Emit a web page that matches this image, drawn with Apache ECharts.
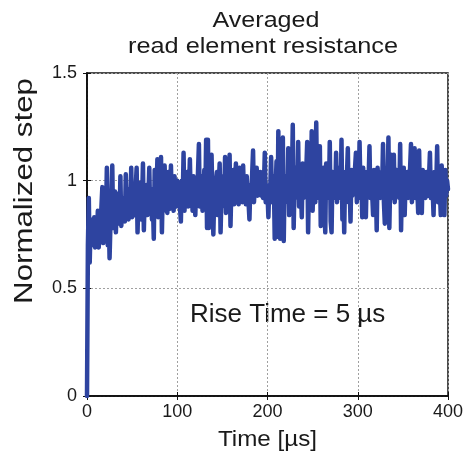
<!DOCTYPE html>
<html><head><meta charset="utf-8">
<script src="https://cdn.jsdelivr.net/npm/echarts@6/dist/echarts.min.js"></script>
<style>html,body{margin:0;padding:0;background:#fff}#c{width:469px;height:458px}</style>
</head><body><div id="c"></div>
<script>
const timeStep = 1; // µs between samples
const stepValues = [
  0,
  0.70, 0.92, 0.62, 0.80, 0.74, 0.82, 0.70, 0.83, 0.69, 0.78, 0.72, 0.86, 0.69, 0.80, 0.75, 0.88, 0.97, 0.71, 0.84, 0.76,
  0.82, 1.06, 0.70, 0.88, 0.64, 0.80, 0.92, 1.07, 0.78, 0.86, 0.95, 0.76, 0.90, 0.82, 0.94, 0.80, 1.02, 0.79, 0.88, 0.84,
  0.92, 0.81, 1.03, 0.86, 0.90, 0.82, 0.96, 0.85, 1.06, 0.83, 0.94, 0.88, 0.84, 0.97, 1.06, 0.76, 0.92, 0.85, 0.99, 0.82,
  0.90, 1.08, 0.77, 0.95, 0.86, 0.98, 0.84, 0.92, 1.06, 0.85, 0.96, 0.82, 0.90, 0.73, 1.05, 0.88, 0.94, 1.10, 0.83, 0.96,
  0.88, 1.11, 0.76, 0.98, 0.86, 1.07, 0.90, 0.95, 0.85, 1.04, 0.92, 0.87, 1.07, 0.90, 0.98, 0.86, 1.02, 0.93, 0.88, 1.00,
  0.92, 0.97, 0.88, 0.81, 1.00, 0.90, 1.13, 0.86, 0.98, 0.92, 1.04, 0.88, 0.95, 1.10, 0.90, 0.97, 0.86, 1.02, 0.93, 0.84,
  0.98, 0.90, 1.04, 1.17, 0.88, 0.96, 1.02, 0.86, 0.95, 1.05, 0.90, 1.19, 0.78, 1.19, 0.78, 0.96, 0.88, 1.12, 0.92, 0.75,
  0.94, 0.86, 1.00, 1.04, 0.84, 0.98, 1.08, 0.76, 0.94, 0.88, 1.02, 0.92, 1.11, 0.85, 0.97, 0.90, 0.94, 1.12, 0.79, 0.98,
  0.90, 1.05, 0.89, 0.98, 1.08, 0.92, 0.96, 0.89, 1.06, 0.93, 1.00, 0.90, 1.07, 0.92, 0.97, 0.89, 1.02, 0.94, 0.90, 0.82,
  0.98, 0.92, 1.03, 1.14, 0.90, 0.98, 0.94, 1.06, 0.93, 1.00, 0.95, 1.04, 0.93, 0.99, 0.92, 0.97, 1.13, 0.90, 0.96, 0.94,
  0.83, 0.98, 0.95, 1.11, 0.90, 0.97, 1.02, 0.73, 0.96, 1.09, 0.74, 1.23, 0.92, 0.73, 1.00, 0.94, 1.20, 0.72, 1.02, 0.95,
  0.98, 0.90, 1.15, 0.84, 1.04, 0.93, 0.99, 1.26, 0.78, 1.00, 0.92, 1.06, 0.94, 1.18, 0.88, 1.02, 0.96, 0.83, 1.08, 0.92,
  1.00, 0.94, 1.05, 1.18, 0.76, 1.02, 0.92, 0.98, 1.23, 0.86, 1.04, 0.95, 0.90, 1.27, 0.92, 1.03, 0.96, 1.16, 0.79, 1.00,
  0.94, 1.06, 0.90, 0.76, 1.08, 0.95, 1.02, 0.92, 1.18, 0.81, 0.76, 1.04, 0.96, 1.00, 0.92, 1.13, 0.90, 1.02, 0.95, 1.06,
  0.92, 1.19, 0.82, 1.00, 0.76, 1.04, 0.94, 1.02, 1.15, 0.90, 0.98, 0.81, 1.05, 0.93, 1.00, 0.95, 1.06, 1.13, 0.90, 0.98,
  0.92, 1.18, 0.96, 1.02, 0.83, 1.06, 0.90, 0.98, 0.83, 1.04, 0.95, 1.00, 1.16, 0.92, 1.03, 0.94, 0.84, 1.05, 0.96, 1.00,
  0.77, 1.06, 0.94, 1.00, 0.92, 1.04, 0.96, 1.17, 0.90, 0.80, 1.02, 0.95, 0.98, 1.20, 0.78, 1.00, 1.12, 0.92, 1.04, 1.12,
  0.90, 0.98, 1.05, 0.93, 1.00, 0.92, 1.17, 0.77, 1.02, 0.96, 1.06, 0.84, 1.00, 0.94, 1.04, 0.92, 0.98, 1.06, 1.17, 0.90,
  1.00, 0.94, 1.15, 0.92, 1.03, 0.96, 0.85, 1.14, 0.90, 1.02, 0.85, 1.05, 0.95, 1.00, 0.92, 1.04, 0.96, 0.93, 1.02, 1.13,
  0.92, 1.00, 0.96, 0.84, 1.04, 0.94, 0.98, 1.16, 0.90, 1.02, 0.95, 0.84, 1.07, 0.92, 1.00, 0.84, 1.05, 0.93, 1.00, 0.96
];
const xTicks = [0, 100, 200, 300, 400];
const yTicks = [0, 0.5, 1, 1.5];
const titleLines = ['Averaged', 'read element resistance'];
const xName = 'Time [\u00b5s]';
const yName = 'Normalized step';
const annotation = 'Rise Time = 5 \u00b5s';

const seriesData = stepValues.map((v, i) => [i * timeStep, v]);
const font = '"Liberation Sans", Arial, Helvetica, sans-serif';
const ink = '#1a1a1a';
const chart = echarts.init(document.getElementById('c'), null, {renderer: 'canvas'});
const gridLine = {show: true, lineStyle: {color: '#a0a0a0', type: [2, 2], width: 1}};
const frameAxis = {show: true, lineStyle: {color: '#111', width: 1.5}};
const innerTick = {show: true, inside: true, length: 4, lineStyle: {color: '#111'}};
function txt(text, x, y, size, sx, rot) {
  return {type: 'text', x: x, y: y, scaleX: sx, scaleY: 1, rotation: rot || 0, silent: true,
    style: {text: text, font: size + 'px ' + font, fill: ink, align: 'center', verticalAlign: 'middle'}};
}
chart.setOption({
  animation: false,
  backgroundColor: '#fff',
  grid: {left: 87, right: 21, top: 73, bottom: 62, show: true, borderColor: '#111', borderWidth: 1.5},
  xAxis: [{
    type: 'value', min: 0, max: 400, interval: 100,
    axisLine: frameAxis, axisTick: innerTick,
    axisLabel: {fontFamily: font, fontSize: 18, color: ink, margin: 7,
      formatter: v => xTicks.includes(v) ? String(v) : ''},
    splitLine: gridLine
  }, {
    type: 'value', position: 'top', min: 0, max: 400, interval: 100,
    axisLine: frameAxis, axisTick: innerTick,
    axisLabel: {show: false}, splitLine: {show: false}
  }],
  yAxis: [{
    type: 'value', min: 0, max: 1.5, interval: 0.5,
    axisLine: frameAxis, axisTick: innerTick,
    axisLabel: {fontFamily: font, fontSize: 18, color: ink, margin: 10,
      formatter: v => yTicks.includes(v) ? String(v) : ''},
    splitLine: gridLine
  }, {
    type: 'value', position: 'right', min: 0, max: 1.5, interval: 0.5,
    axisLine: frameAxis, axisTick: innerTick,
    axisLabel: {show: false}, splitLine: {show: false}
  }],
  series: [{
    type: 'line', data: seriesData, showSymbol: false, symbol: 'none',
    lineStyle: {color: '#2e44a0', width: 4.5, join: 'round', cap: 'round'},
    clip: true
  }],
  graphic: [
    txt(titleLines[0], 266, 21, 22, 1.14),
    txt(titleLines[1], 263, 46.5, 22, 1.15),
    txt(xName, 267.5, 440, 22, 1.1),
    txt(yName, 25, 191, 25, 1.25, Math.PI / 2),
    {type: 'text', x: 190, y: 314.5, silent: true,
      style: {text: annotation, font: '26px ' + font, fill: ink, align: 'left', verticalAlign: 'middle'}}
  ]
});
</script></body></html>
